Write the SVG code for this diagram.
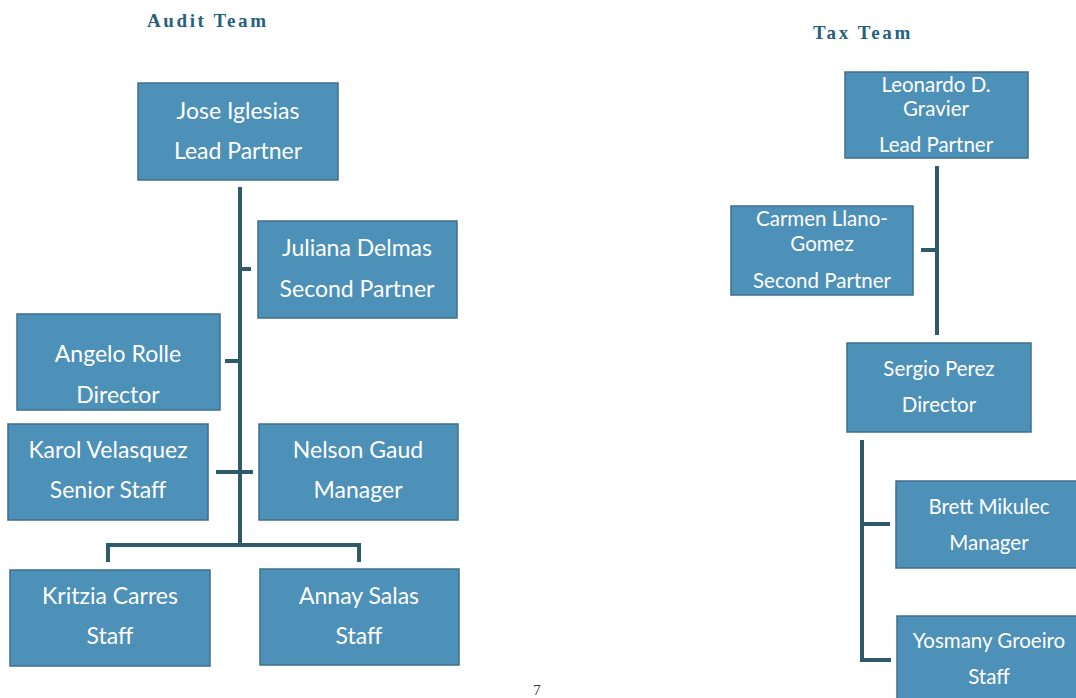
<svg xmlns="http://www.w3.org/2000/svg" width="1076" height="698" viewBox="0 0 1076 698">
<style>
.box{fill:#4d90b8;stroke:#3f6f8c;stroke-width:1.5}
.t{font-family:Lato,"Open Sans",sans-serif;font-size:23px;fill:#ffffff;text-anchor:middle}
.s{font-size:20.5px}
.title{font-family:"Liberation Serif",serif;font-weight:bold;font-size:19px;fill:#25607f;letter-spacing:2.6px}
.ln{stroke:#2f5a6c;stroke-width:4;fill:none}
</style>
<rect width="1076" height="698" fill="#ffffff"/>
<text class="title" x="147" y="27">Audit Team</text>
<text class="title" x="813" y="39">Tax Team</text>
<g id="connectors">
<path class="ln" d="M240 187 V545"/>
<path class="ln" d="M240 269 H251"/>
<path class="ln" d="M225 361 H240"/>
<path class="ln" d="M216 472 H253"/>
<path class="ln" d="M108 562 V545 H359 V562"/>
<path class="ln" d="M937 166 V335"/>
<path class="ln" d="M921 250 H937"/>
<path class="ln" d="M862 440 V660 H891"/>
<path class="ln" d="M862 524 H890"/>
</g>
<g id="jose"><rect class="box" x="138" y="83" width="200" height="97"/><text class="t" x="238" y="119">Jose Iglesias</text><text class="t" x="238" y="159">Lead Partner</text></g>
<g id="juliana"><rect class="box" x="258" y="221" width="199" height="97"/><text class="t" x="357" y="256">Juliana Delmas</text><text class="t" x="357" y="297">Second Partner</text></g>
<g id="angelo"><rect class="box" x="17" y="314" width="203" height="96"/><text class="t" x="118" y="362">Angelo Rolle</text><text class="t" x="118" y="403">Director</text></g>
<g id="karol"><rect class="box" x="8" y="424" width="200" height="96"/><text class="t" x="108" y="458">Karol Velasquez</text><text class="t" x="108" y="498">Senior Staff</text></g>
<g id="nelson"><rect class="box" x="259" y="424" width="199" height="96"/><text class="t" x="358" y="458">Nelson Gaud</text><text class="t" x="358" y="498">Manager</text></g>
<g id="kritzia"><rect class="box" x="10" y="570" width="200" height="96"/><text class="t" x="110" y="604">Kritzia Carres</text><text class="t" x="110" y="644">Staff</text></g>
<g id="annay"><rect class="box" x="260" y="569" width="199" height="96"/><text class="t" x="359" y="604">Annay Salas</text><text class="t" x="359" y="644">Staff</text></g>
<g id="leonardo"><rect class="box" x="845" y="72" width="183" height="86"/><text class="t s" x="936" y="92">Leonardo D.</text><text class="t s" x="936" y="116">Gravier</text><text class="t s" x="936" y="152">Lead Partner</text></g>
<g id="carmen"><rect class="box" x="731" y="206" width="182" height="89"/><text class="t s" x="822" y="226">Carmen Llano-</text><text class="t s" x="822" y="251">Gomez</text><text class="t s" x="822" y="288">Second Partner</text></g>
<g id="sergio"><rect class="box" x="847" y="343" width="184" height="89"/><text class="t s" x="939" y="376">Sergio Perez</text><text class="t s" x="939" y="412">Director</text></g>
<g id="brett"><rect class="box" x="896" y="481" width="186" height="87"/><text class="t s" x="989" y="514">Brett Mikulec</text><text class="t s" x="989" y="550">Manager</text></g>
<g id="yosmany"><rect class="box" x="897" y="616" width="186" height="90"/><text class="t s" x="989" y="648">Yosmany Groeiro</text><text class="t s" x="989" y="684">Staff</text></g>
<text x="537" y="695" style="font-family:'Liberation Serif',serif;font-size:15px;fill:#333333;text-anchor:middle">7</text>
</svg>
